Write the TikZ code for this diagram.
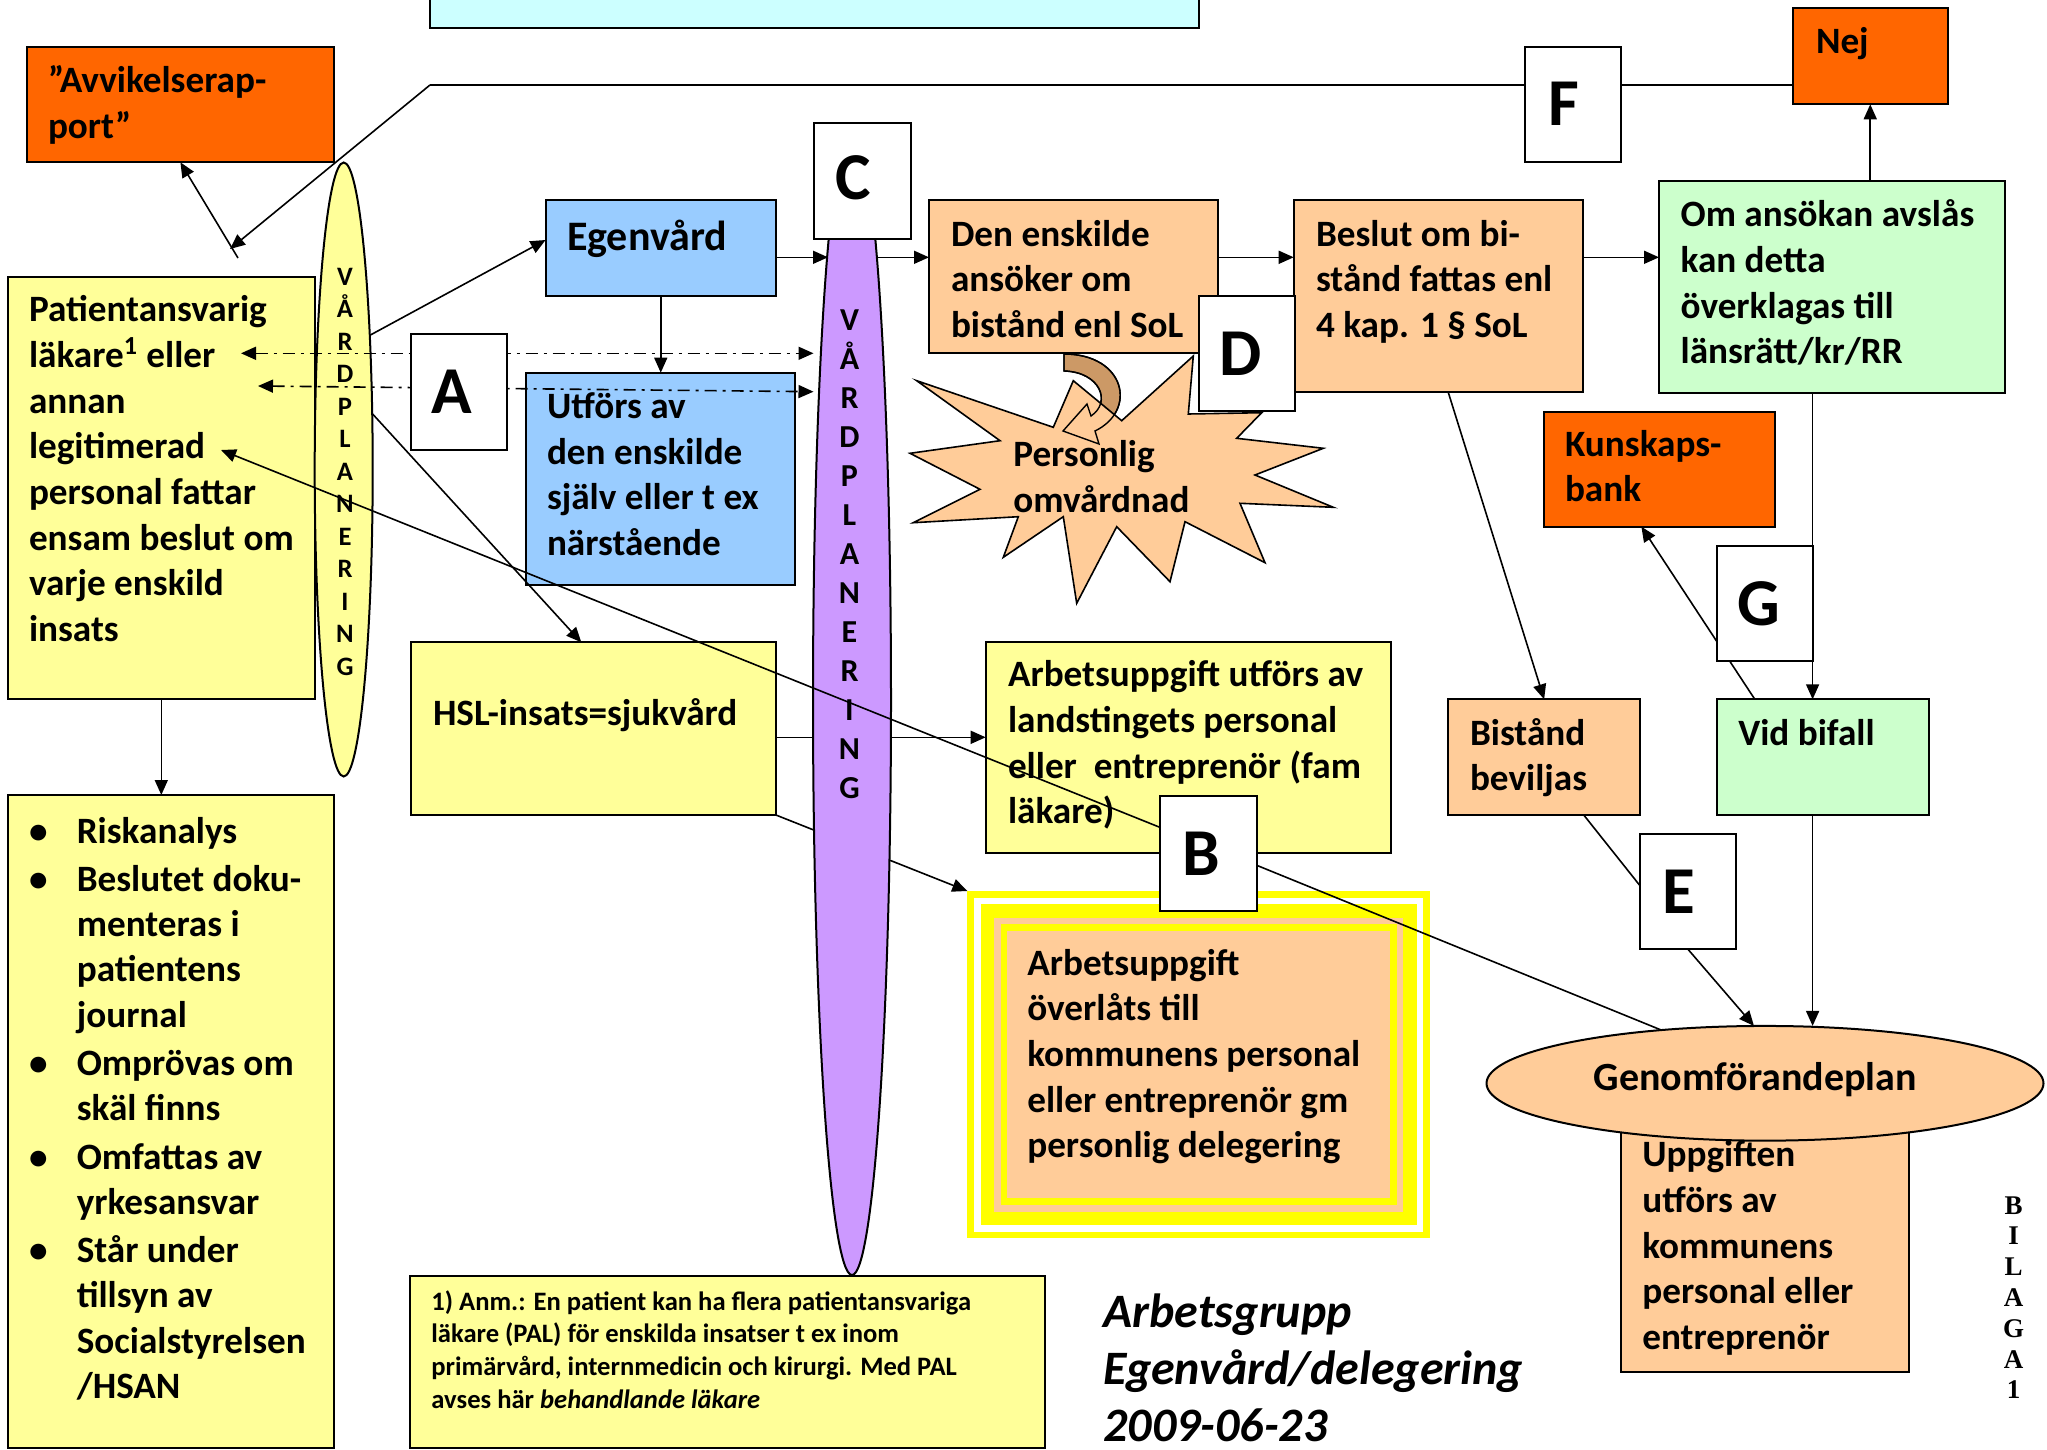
\documentclass[tikz,border=0pt]{standalone}
\usepackage{fontspec}
\setmainfont{Carlito}
\newfontfamily\bilfont{Liberation Serif}
\usetikzlibrary{fit,calc,arrows.meta,shapes.geometric}
\definecolor{orng}{HTML}{FF6600}
\definecolor{peach}{HTML}{FFCC99}
\definecolor{lyel}{HTML}{FFFF99}
\definecolor{lblue}{HTML}{99CCFF}
\definecolor{lgreen}{HTML}{CCFFCC}
\definecolor{lcyan}{HTML}{CCFFFF}
\definecolor{lpurp}{HTML}{CC99FF}
\definecolor{mytan}{HTML}{CC9966}
\definecolor{byel}{HTML}{FFFF00}
\newcommand\mainfs{\bfseries\fontsize{18.6}{22.85}\selectfont}
\newcommand\bul{\makebox[23.9pt][l]{•}}
\newcommand\ind{\hspace*{23.9pt}}
\begin{document}
\begin{tikzpicture}[x=0.5pt,y=-0.5pt,
  bx/.style={draw=black,line width=1pt,inner sep=0pt,outer sep=0pt},
  lbl/.style={bx,fill=white},
  txt/.style={inner sep=0pt,outer sep=0pt,align=left,anchor=base west,font=\mainfs},
  big/.style={inner sep=0pt,font=\bfseries\fontsize{33.5}{40}\selectfont},
  arr/.style={line width=0.8pt,-{Triangle[length=7.5pt,width=6.5pt]}},
  ln/.style={line width=0.8pt},
  dd/.style={line width=0.8pt,{Triangle[length=7.5pt,width=6.5pt]}-{Triangle[length=7.5pt,width=6.5pt]},dash pattern=on 6pt off 3pt on 1.5pt off 3pt},
]
\useasboundingbox (0,0) rectangle (2047,1450);

% ---------- boxes ----------
\node[bx,fill=lcyan,fit={(430,-10)(1198.6,27.7)}] (cyanbox) {};
\node[bx,fill=orng,fit={(26.8,46.7)(334,162.3)}] (avv) {};
\node[bx,fill=lyel,fit={(7.6,276.7)(315,699.3)}] (patient) {};
\node[bx,fill=lyel,ellipse,minimum width=29pt,minimum height=307pt] (vp) at (343.7,469.5) {};
\node[bx,fill=lyel,fit={(7.6,795)(334,1448)}] (bullets) {};
\node[bx,fill=lblue,fit={(545.6,200)(775.9,296)}] (egen) {};
\node[bx,fill=lblue,fit={(526,372.7)(795,585)}] (utf) {};
\node[bx,fill=lyel,fit={(410.7,642.3)(775.9,815)}] (hsl) {};
\node[bx,fill=lyel,fit={(985.7,642.3)(1391,853.3)}] (arb) {};
% framed box
\node[inner sep=0pt,outer sep=0pt,fill=byel,fit={(967.3,891)(1430,1238.3)}] (ovl) {};
\fill[white] (974,897.7) rectangle (1423.3,1231.7);
\fill[byel] (980.6,904.3) rectangle (1416.7,1225);
\fill[peach] (994,917.7) rectangle (1403.3,1211.7);
\fill[byel] (1000.6,924.3) rectangle (1396.7,1205);
\node[inner sep=0pt,outer sep=0pt,fill=peach,fit={(1007.3,931)(1390,1198.3)}] (ovlin) {};
\node[bx,fill=peach,fit={(929,200)(1217.8,353.3)}] (den) {};
\node[bx,fill=peach,fit={(1293.7,200)(1582.8,392.3)}] (besl) {};
\node[bx,fill=lgreen,fit={(1659,181)(2005.3,392.7)}] (oma) {};
\node[bx,fill=orng,fit={(1793,7.7)(1947.5,104.3)}] (nej) {};
\node[bx,fill=orng,fit={(1543.6,411.7)(1774.6,526.7)}] (kb) {};
\node[bx,fill=peach,fit={(1448.3,699.3)(1640,815)}] (bist) {};
\node[bx,fill=lgreen,fit={(1716.9,699.3)(1928.5,815)}] (vid) {};
\node[bx,fill=peach,fit={(1621,1100)(1909.4,1371.7)}] (upp) {};
\node[bx,fill=peach,ellipse,minimum width=278.5pt,minimum height=57.35pt] (genom) at (1765,1083.3) {};
\node[bx,fill=lyel,fit={(410.4,1276)(1045.2,1448)}] (fn) {};

% ---------- curved arrow and star ----------
\def\curvarrow{(1064,354) .. controls (1125,354) and (1138,410) .. (1095,431) -- (1099,444) -- (1063,431) -- (1087,404) -- (1091,416) .. controls (1112,402) and (1100,372) .. (1064,371) -- cycle}
\filldraw[fill=mytan,draw=black,line width=0.7pt] \curvarrow;
\filldraw[fill=peach,draw=black,line width=0.8pt] (916.7,380.7) -- (1053.3,427.3) -- (1073.3,380.7) -- (1121.7,420.7) -- (1193.3,356) -- (1188.3,414) -- (1261.7,412.7) -- (1236.7,438.3) -- (1323.3,448.3) -- (1255,475) -- (1333.3,507.3) -- (1240,503.3) -- (1265,562.7) -- (1185,521.7) -- (1170,581.7) -- (1116.7,526.7) -- (1076.7,603.3) -- (1063.3,516.7) -- (1003.3,557.3) -- (1018.3,516.7) -- (913.3,522.7) -- (980,489.3) -- (910,453.3) -- (1000,440.7) -- cycle;
\draw[black,line width=0.7pt] \curvarrow;

% ---------- connectors ----------
\coordinate (meetF) at (230,249);
\coordinate (meetA) at (238,258);
\coordinate (fl) at (430,85);
\coordinate (fleft) at (1525,85);
\coordinate (fright) at (1621,85);
\coordinate (row1) at (0,257.3);
\coordinate (row2) at (0,737.3);
\coordinate (pl1) at (828,257.3);
\coordinate (pr1) at (877,257.3);
\coordinate (d1l) at (241,353.3);
\coordinate (d1r) at (813.5,353.3);
\coordinate (d2l) at (258,386);
\coordinate (d2r) at (813.5,391.7);
\coordinate (legit) at (221,450);
\coordinate (gx) at (1812.6,0);

\draw[arr] (patient.south) -- (patient.south |- bullets.north);
\draw[arr] (fl) -- (meetF);
\draw[arr] (meetA) -- (avv.south);
\draw[ln] (fl) -- (fleft);
\draw[ln] (fright) -- (fl -| nej.west);
\draw[arr] (vp.79) -- ($(egen.west)+(0,-8)$);
\draw[dd] (d1l) -- (d1r);
\draw[dd] (d2l) -- (d2r);
\draw[arr] (egen.south) -- (egen.south |- utf.north);
\draw[arr] (egen.east |- row1) -- (pl1);
\draw[arr] (pr1) -- (den.west |- row1);
\draw[arr] (den.east |- row1) -- (besl.west |- row1);
\draw[arr] (besl.east |- row1) -- (oma.west |- row1);
\draw[arr] (oma.north -| nej.south) -- (nej.south);
\draw[arr] (oma.south -| gx) -- (vid.north -| gx);
\draw[arr] ($(vid.north west)+(37.9,0)$) -- ($(kb.south)+(-17.7,0)$);
\draw[arr] ($(besl.south)+(10,0)$) -- (bist.north);
\draw[ln] ($(bist.south)+(39.6,0)$) -- (1640,885.7);
\draw[arr] (1688,949.3) -- ($(genom.north)+(-11,0)$);
\draw[arr] (vid.south -| gx) -- (genom.north -| gx);
\draw[ln] (1256.7,865.3) -- ($(genom.north)+(-104,4)$);
\draw[arr] (vp.63) -- ($(hsl.north)+(-12,0)$);
\draw[arr] (hsl.east |- row2) -- (arb.west |- row2);
\draw[arr] (hsl.south east) -- (ovl.north west);

\node[bx,fill=lpurp,ellipse,minimum width=39pt,minimum height=575pt] (purp) at (852,700) {};
\draw[arr] (1159.8,827.3) -- (legit);

% ---------- label boxes ----------
\node[lbl,fit={(411.4,334.3)(506.7,450)}] (abox) {};
\node[lbl,fit={(1159.8,795.7)(1256.7,911)}] (bbox) {};
\node[lbl,fit={(813.8,123.3)(910.7,238.7)}] (cbox) {};
\node[lbl,fit={(1198.6,296)(1294.6,411)}] (dbox) {};
\node[lbl,fit={(1640,834)(1736.3,949.3)}] (ebox) {};
\node[lbl,fit={(1525,46.7)(1621,161.7)}] (fbox) {};
\node[lbl,fit={(1716.9,546)(1812.6,661)}] (gbox) {};
\node[big] (aT) at ($(abox.center)+(-7,0)$) {A};
\node[big] (bT) at ($(bbox.center)+(-7,0)$) {B};
\node[big] (cT) at ($(cbox.center)+(-9,-3)$) {C};
\node[big] (dT) at ($(dbox.center)+(-6,0)$) {D};
\node[big] (eT) at ($(ebox.center)+(-9,0)$) {E};
\node[big] (fT) at ($(fbox.center)+(-9,0)$) {F};
\node[big] (gT) at ($(gbox.center)+(-6,0)$) {G};

% ---------- texts (anchor = baseline of LAST line) ----------
\node[txt] (avvT) at (48,138.4) {”Avvikelserap-\\port”};
\node[txt] (patT) at (29,641.6) {Patientansvarig\\läkare\textsuperscript{1} eller\\annan\\legitimerad\\personal fattar\\ensam beslut om\\varje enskild\\insats};
\node[inner sep=0pt,align=center,anchor=base,font=\bfseries\fontsize{13.3}{16.25}\selectfont] (vpT) at (345,675) {V\\Å\\R\\D\\P\\L\\A\\N\\E\\R\\I\\N\\G};
\node[inner sep=0pt,align=center,anchor=base,font=\bfseries\fontsize{16}{19.5}\selectfont] (purpT) at (849.5,798) {V\\Å\\R\\D\\P\\L\\A\\N\\E\\R\\I\\N\\G};
\node[txt,font=\bfseries\fontsize{21}{25}\selectfont] (egenT) at (567,250) {Egenvård};
\node[txt] (utfT) at (547,555.4) {Utförs av\\den enskilde\\själv eller t ex\\närstående};
\node[txt] (hslT) at (433,725) {HSL-insats=sjukvård};
\node[txt] (arbT) at (1008,823.8) {Arbetsuppgift utförs av\\landstingets personal\\eller\ \ entreprenör (fam\\läkare)};
\node[txt] (ovlT) at (1027.3,1157.8) {Arbetsuppgift\\överlåts till\\kommunens personal\\eller entreprenör gm\\personlig delegering};
\node[txt] (denT) at (951,337.4) {Den enskilde\\ansöker om\\bistånd enl SoL};
\node[txt] (beslT) at (1316,337.4) {Beslut om bi-\\stånd fattas enl\\4 kap. 1 § SoL};
\node[txt] (omaT) at (1680.6,363.8) {Om ansökan avslås\\kan detta\\överklagas till\\länsrätt/kr/RR};
\node[txt] (nejT) at (1816,53.3) {Nej};
\node[txt] (kbT) at (1565,501.7) {Kunskaps-\\bank};
\node[txt] (bistT) at (1470,790.7) {Bistånd\\beviljas};
\node[txt] (vidT) at (1738.3,745) {Vid bifall};
\node[txt] (persT) at (1013.3,512.4) {Personlig\\omvårdnad};
\node[inner sep=0pt,anchor=base,font=\bfseries\fontsize{20}{24}\selectfont] (genomT) at (1755.4,1090) {Genomförandeplan};
\node[txt] (uppT) at (1642.3,1349.5) {Uppgiften\\utförs av\\kommunens\\personal eller\\entreprenör};
\node[txt,font=\bfseries\fontsize{18.6}{22.6}\selectfont] (bulT) at (29,1398.3) {\bul Riskanalys\\[1.6pt]\bul Beslutet doku-\\\ind menteras i\\\ind patientens\\\ind journal\\[1.6pt]\bul Omprövas om\\\ind skäl finns\\[1.6pt]\bul Omfattas av\\\ind yrkesansvar\\[1.6pt]\bul Står under\\\ind tillsyn av\\\ind Socialstyrelsen\\\ind /HSAN};
\node[txt,font=\bfseries\fontsize{13.3}{16.4}\selectfont] (fnT) at (431.4,1408.4) {1) Anm.: En patient kan ha flera patientansvariga\\läkare (PAL) för enskilda insatser t ex inom\\primärvård, internmedicin och kirurgi. Med PAL\\avses här \textit{behandlande läkare}};
\node[txt,font=\bfseries\itshape\fontsize{24}{28.35}\selectfont] (agT) at (1103.5,1441) {Arbetsgrupp\\Egenvård/delegering\\2009-06-23};
\node[inner sep=0pt,align=center,anchor=base,font=\bilfont\bfseries\fontsize{13.5}{15.4}\selectfont] (bilT) at (2013.6,1398.8) {B\\I\\L\\A\\G\\A\\1};
\end{tikzpicture}
\end{document}
